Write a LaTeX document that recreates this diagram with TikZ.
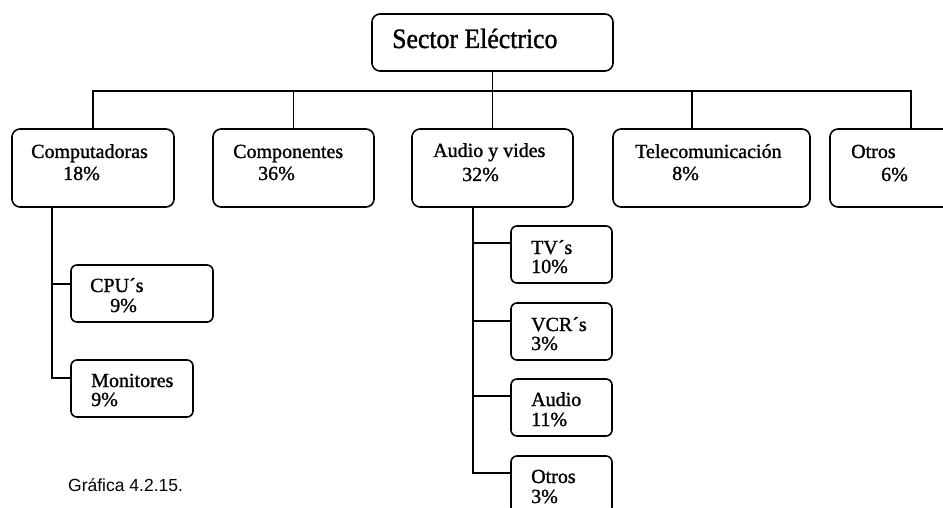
\documentclass[tikz,border=0pt]{standalone}
\usepackage{fontspec}
\setmainfont{Liberation Serif}[FakeBold=1.2]
\newfontfamily\rootfont{Liberation Serif}[FakeStretch=0.92, FakeBold=1.2]
\newfontfamily\arialf{Liberation Sans}
\usetikzlibrary{calc}
\begin{document}
\begin{tikzpicture}[x=1pt,y=-1pt,
  box/.style={draw, line width=1.6pt, rounded corners=8pt, inner sep=0pt, fill=white},
  subbox/.style={box, rounded corners=6pt},
  lbl/.style={anchor=base west, inner sep=0pt, font=\fontsize{20}{24}\selectfont},
  conn/.style={line width=1.6pt}]
\useasboundingbox (0,0) rectangle (943,508);
\fill[white] (0,0) rectangle (943,508);
\clip (0,0) rectangle (943,508);

% boxes
\node[box, minimum width=241pt, minimum height=57pt] (root) at (492.5,42.5) {};
\node[box, minimum width=162pt, minimum height=78pt] (comp)  at (93,168) {};
\node[box, minimum width=161pt, minimum height=78pt] (compo) at (293.5,168) {};
\node[box, minimum width=161pt, minimum height=78pt] (audio) at (492.5,168) {};
\node[box, minimum width=197pt, minimum height=78pt] (tele)  at (711.5,168) {};
\node[box, minimum width=162pt, minimum height=78pt] (otros) at (911,168) {};
\node[subbox, minimum width=142pt, minimum height=57pt] (cpu) at (142,293.5) {};
\node[subbox, minimum width=122pt, minimum height=57pt] (mon) at (132,388.5) {};
\node[subbox, minimum width=101pt, minimum height=57pt] (tv)  at (561.5,254.5) {};
\node[subbox, minimum width=101pt, minimum height=57pt] (vcr) at (561.5,331.5) {};
\node[subbox, minimum width=101pt, minimum height=57pt] (aud) at (561.5,407.5) {};
\node[subbox, minimum width=101pt, minimum height=57pt] (otr) at (561.5,484.5) {};

% bus and connectors
\coordinate (bus) at (0,91);
\draw[conn] (comp.north) -- (comp.north |- bus) -- (otros.north |- bus) -- (otros.north);
\draw[conn] (root.south) -- (root.south |- bus);
\draw[conn] (compo.north) -- (compo.north |- bus);
\draw[conn] (audio.north) -- (audio.north |- bus);
\coordinate (tl) at ($(tele.north)+(-19.5,0)$);
\draw[conn] (tl) -- (tl |- bus);

\coordinate (cl) at ($(comp.south)+(-41,0)$);
\coordinate (cpuin) at ($(cpu.north west)+(0,20)$);
\coordinate (monin) at ($(mon.north west)+(0,19)$);
\draw[conn] (cl) |- (monin);
\draw[conn] (cpuin) -- (cpuin -| cl);

\coordinate (al) at ($(audio.south)+(-19.5,0)$);
\coordinate (tvin) at ($(tv.north west)+(0,18)$);
\coordinate (vcrin) at ($(vcr.north west)+(0,19)$);
\coordinate (audin) at ($(aud.north west)+(0,18)$);
\coordinate (otrin) at ($(otr.north west)+(0,18)$);
\draw[conn] (al) |- (otrin);
\draw[conn] (tvin) -- (tvin -| al);
\draw[conn] (vcrin) -- (vcrin -| al);
\draw[conn] (audin) -- (audin -| al);

% labels
\node[lbl, font=\rootfont\fontsize{28}{32}\selectfont] (troot) at (392,48) {Sector Eléctrico};
\node[lbl] (tcomp1) at (31,158) {Computadoras};
\node[lbl] (tcomp2) at (63,180) {18\%};
\node[lbl] (tcompo1) at (233,158) {Componentes};
\node[lbl] (tcompo2) at (258,180) {36\%};
\node[lbl] (taudio1) at (433,157) {Audio y vides};
\node[lbl] (taudio2) at (462,181) {32\%};
\node[lbl] (ttele1) at (635,158) {Telecomunicación};
\node[lbl] (ttele2) at (672,180) {8\%};
\node[lbl] (totros1) at (851,158) {Otros};
\node[lbl] (totros2) at (881,181) {6\%};
\node[lbl] (tcpu1) at (90,292) {CPU´s};
\node[lbl] (tcpu2) at (110,312) {9\%};
\node[lbl] (tmon1) at (91,387) {Monitores};
\node[lbl] (tmon2) at (91,406) {9\%};
\node[lbl] (ttv1) at (531,254) {TV´s};
\node[lbl] (ttv2) at (531,273) {10\%};
\node[lbl] (tvcr1) at (531,331) {VCR´s};
\node[lbl] (tvcr2) at (531,350) {3\%};
\node[lbl] (taud1) at (531,406) {Audio};
\node[lbl] (taud2) at (531,426) {11\%};
\node[lbl] (totr1) at (531,483) {Otros};
\node[lbl] (totr2) at (531,503) {3\%};

\node[anchor=base west, inner sep=0pt, font=\arialf\fontsize{17.5}{20}\selectfont] (caption) at (68,491) {Gráfica 4.2.15.};
\end{tikzpicture}
\end{document}
